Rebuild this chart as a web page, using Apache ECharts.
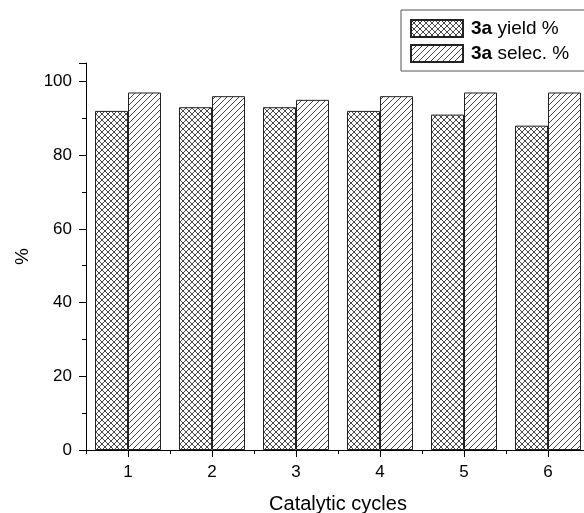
<!DOCTYPE html>
<html>
<head>
<meta charset="utf-8">
<script src="https://cdn.jsdelivr.net/npm/echarts@6/dist/echarts.min.js"></script>
<style>
	html, body { margin: 0; padding: 0; background: #fff; }
	#chart { width: 584px; height: 513px; }
</style>
</head>
<body>
<div id="chart"></div>
<script>
// 数据
const cycles = ['1', '2', '3', '4', '5', '6']
const cycleTicks = [1, 2, 3, 4, 5, 6]
const yieldValues = [92, 93, 93, 92, 91, 88]
const selecValues = [97, 96, 95, 96, 97, 97]
const yLabels = [0, 20, 40, 60, 80, 100]

const font = 'Liberation Sans, Arial, sans-serif'

// 填充纹理
const makeHatch = (cross) => {
	const size = 6
	const c = document.createElement('canvas')
	c.width = size
	c.height = size
	const ctx = c.getContext('2d')
	ctx.fillStyle = '#fff'
	ctx.fillRect(0, 0, size, size)
	ctx.strokeStyle = '#333'
	ctx.lineWidth = 0.9
	ctx.beginPath()
	ctx.moveTo(-1, size + 1)
	ctx.lineTo(size + 1, -1)
	ctx.moveTo(-1, 1)
	ctx.lineTo(1, -1)
	ctx.moveTo(size - 1, size + 1)
	ctx.lineTo(size + 1, size - 1)
	if (cross) {
		ctx.moveTo(-1, -1)
		ctx.lineTo(size + 1, size + 1)
		ctx.moveTo(-1, size - 1)
		ctx.lineTo(1, size + 1)
		ctx.moveTo(size - 1, -1)
		ctx.lineTo(size + 1, 1)
	}
	ctx.stroke()
	return { image: c, repeat: 'repeat' }
}

const chart = echarts.init(document.getElementById('chart'), null, { renderer: 'canvas' })

const option = {
	animation: false,
	backgroundColor: '#fff',
	grid: {
		left: 86,
		right: -6,
		top: 63,
		bottom: 63,
		containLabel: false,
		outerBoundsMode: 'none'
	},
	legend: {
		left: 401,
		top: 10,
		orient: 'vertical',
		padding: [9, 40, 8, 9],
		itemWidth: 52,
		itemHeight: 17,
		itemGap: 6,
		borderColor: '#555',
		borderWidth: 1,
		icon: 'rect',
		formatter: (name) => '{b|3a} ' + name,
		textStyle: {
			fontFamily: font,
			fontSize: 19,
			color: '#000',
			padding: [0, 0, 0, 3],
			rich: {
				b: { fontFamily: font, fontSize: 19, fontWeight: 'bold', color: '#000' }
			}
		},
		data: ['yield %', 'selec. %']
	},
	xAxis: [
		// 柱子所用的类目轴，刻度在分界处
		{
			type: 'category',
			data: cycles,
			position: 'bottom',
			axisLine: { show: true, lineStyle: { color: '#000', width: 1 } },
			axisTick: { show: true, length: 4, lineStyle: { color: '#000' } },
			axisLabel: { show: false },
			splitLine: { show: false }
		},
		// 主刻度、标签和轴名
		{
			type: 'value',
			min: 0.5,
			max: 6.5,
			position: 'bottom',
			name: 'Catalytic cycles',
			nameLocation: 'middle',
			nameGap: 44,
			nameTextStyle: { fontFamily: font, fontSize: 20, color: '#000' },
			axisLine: { show: false },
			axisTick: { show: true, length: 7, customValues: cycleTicks, lineStyle: { color: '#000' } },
			axisLabel: { fontFamily: font, fontSize: 17, color: '#000', margin: 14, customValues: cycleTicks },
			splitLine: { show: false }
		}
	],
	yAxis: {
		type: 'value',
		min: 0,
		max: 105,
		interval: 20,
		name: '%',
		nameLocation: 'middle',
		nameGap: 54,
		nameRotate: 90,
		nameTextStyle: { fontFamily: font, fontSize: 19, color: '#000' },
		axisLine: { show: true, lineStyle: { color: '#000', width: 1 } },
		axisTick: { show: true, length: 7, lineStyle: { color: '#000' } },
		minorTick: { show: true, splitNumber: 2, length: 4, lineStyle: { color: '#000' } },
		axisLabel: { fontFamily: font, fontSize: 17, color: '#000', margin: 14, customValues: yLabels },
		splitLine: { show: false }
	},
	series: [
		{
			name: 'yield %',
			type: 'bar',
			data: yieldValues,
			barWidth: 33,
			barGap: '0%',
			itemStyle: { color: makeHatch(true), borderColor: '#222', borderWidth: 1 }
		},
		{
			name: 'selec. %',
			type: 'bar',
			data: selecValues,
			barWidth: 33,
			barGap: '0%',
			itemStyle: { color: makeHatch(false), borderColor: '#222', borderWidth: 1 }
		}
	]
}

chart.setOption(option)
</script>
</body>
</html>
